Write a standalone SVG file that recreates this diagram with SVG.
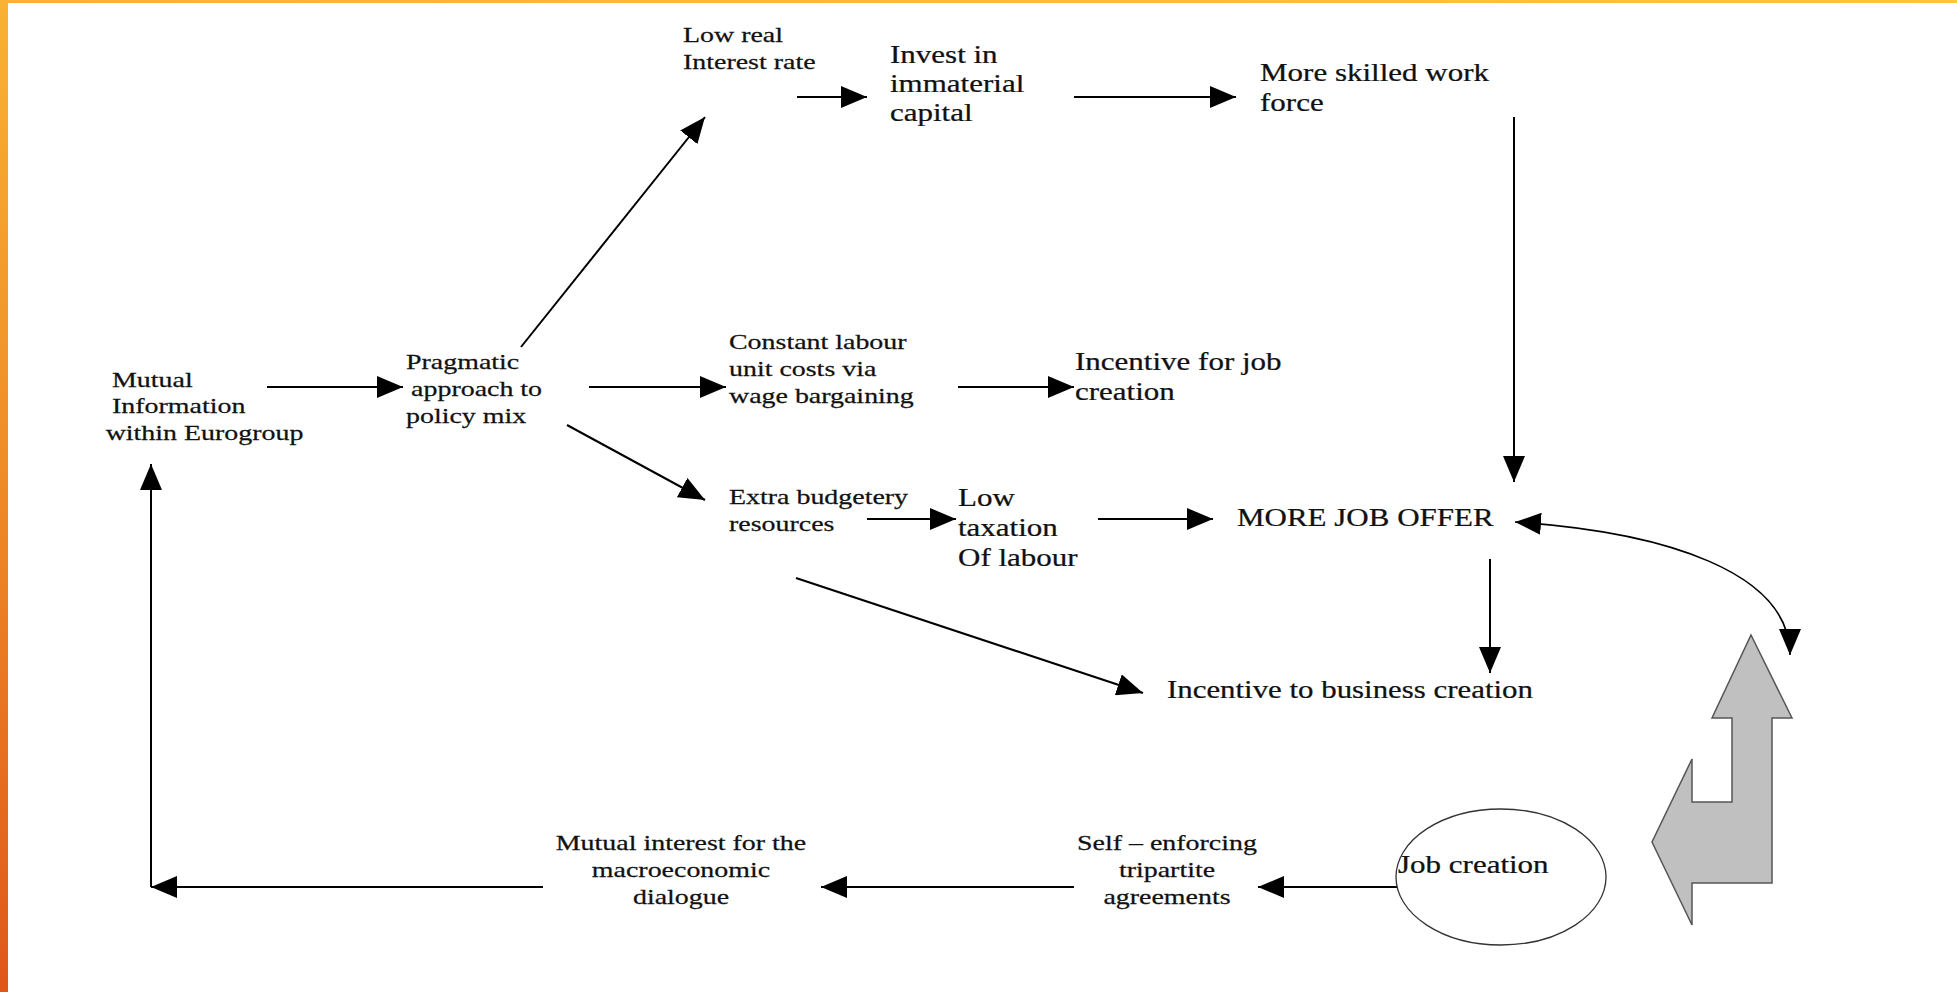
<svg xmlns="http://www.w3.org/2000/svg" width="1957" height="992" viewBox="0 0 1957 992">
  <defs>
    <linearGradient id="gLeft" x1="0" y1="0" x2="0" y2="1">
      <stop offset="0" stop-color="#F9B233"/>
      <stop offset="0.5" stop-color="#EE8A26"/>
      <stop offset="1" stop-color="#DF571A"/>
    </linearGradient>
    <linearGradient id="gTop" x1="0" y1="0" x2="1" y2="0">
      <stop offset="0" stop-color="#F9B233"/>
      <stop offset="1" stop-color="#FEC534"/>
    </linearGradient>
    <marker id="ah" markerUnits="userSpaceOnUse" markerWidth="26" markerHeight="22" refX="26" refY="11" orient="auto-start-reverse">
      <path d="M0,0 L26,11 L0,22 z" fill="#000"/>
    </marker>
    <style>
      text { font-family: "Liberation Serif", "Times New Roman", serif; fill: #111; stroke: #111; stroke-width: 0.25px; }
      .s { font-size: 22px; }
      .l { font-size: 25px; }
      .c { text-anchor: middle; }
      .con line, .con path { stroke: #000; stroke-width: 2; fill: none; marker-end: url(#ah); }
    </style>
  </defs>

  <rect x="0" y="0" width="1957" height="992" fill="#FFFFFF"/>
  <rect x="0" y="0" width="1957" height="3" fill="url(#gTop)"/>
  <rect x="0" y="0" width="8" height="992" fill="url(#gLeft)"/>

  <g id="connectors" class="con">
    <line x1="267" y1="387" x2="403" y2="387"/>
    <line x1="521" y1="347" x2="705" y2="117"/>
    <line x1="589" y1="387" x2="726" y2="387"/>
    <line x1="567" y1="425" x2="705" y2="500"/>
    <line x1="797" y1="97" x2="867" y2="97"/>
    <line x1="1074" y1="97" x2="1236" y2="97"/>
    <line x1="1514" y1="117" x2="1514" y2="482"/>
    <line x1="958" y1="387" x2="1074" y2="387"/>
    <line x1="867" y1="519" x2="956" y2="519"/>
    <line x1="1098" y1="519" x2="1213" y2="519"/>
    <line x1="796" y1="578" x2="1143" y2="693"/>
    <line x1="1490" y1="559" x2="1490" y2="673"/>
    <path d="M1515,522 C1665,532 1790,572 1790,655" style="marker-start:url(#ah);stroke-width:1.6"/>
    <line x1="1397" y1="887" x2="1258" y2="887"/>
    <line x1="1074" y1="887" x2="821" y2="887"/>
    <line x1="543" y1="887" x2="151" y2="887"/>
    <line x1="151" y1="887" x2="151" y2="464"/>
  </g>

  <g id="n-mutual-info" transform="translate(112,387) scale(1.27,1)">
    <text class="s"><tspan x="0" y="0">Mutual</tspan><tspan x="0" y="26">Information</tspan><tspan x="-5" y="53">within Eurogroup</tspan></text>
  </g>
  <g id="n-pragmatic" transform="translate(406,369) scale(1.27,1)">
    <text class="s"><tspan x="0" y="0">Pragmatic</tspan><tspan x="4" y="27">approach to</tspan><tspan x="0" y="54">policy mix</tspan></text>
  </g>
  <g id="n-low-real" transform="translate(683,42) scale(1.27,1)">
    <text class="s"><tspan x="0" y="0">Low real</tspan><tspan x="0" y="27">Interest rate</tspan></text>
  </g>
  <g id="n-invest" transform="translate(890,63) scale(1.24,1)">
    <text class="l"><tspan x="0" y="0">Invest in</tspan><tspan x="0" y="29">immaterial</tspan><tspan x="0" y="58">capital</tspan></text>
  </g>
  <g id="n-skilled" transform="translate(1260,81) scale(1.24,1)">
    <text class="l"><tspan x="0" y="0">More skilled work</tspan><tspan x="0" y="30">force</tspan></text>
  </g>
  <g id="n-constant" transform="translate(729,349) scale(1.27,1)">
    <text class="s"><tspan x="0" y="0">Constant labour</tspan><tspan x="0" y="27">unit costs via</tspan><tspan x="0" y="54">wage bargaining</tspan></text>
  </g>
  <g id="n-incentive-job" transform="translate(1075,370) scale(1.24,1)">
    <text class="l"><tspan x="0" y="0">Incentive for job</tspan><tspan x="0" y="30">creation</tspan></text>
  </g>
  <g id="n-extra" transform="translate(729,504) scale(1.27,1)">
    <text class="s"><tspan x="0" y="0">Extra budgetery</tspan><tspan x="0" y="27">resources</tspan></text>
  </g>
  <g id="n-low-tax" transform="translate(958,506) scale(1.24,1)">
    <text class="l"><tspan x="0" y="0">Low</tspan><tspan x="0" y="30">taxation</tspan><tspan x="0" y="60">Of labour</tspan></text>
  </g>
  <g id="n-more-job" transform="translate(1237,526) scale(1.24,1)">
    <text class="l" x="0" y="0">MORE JOB OFFER</text>
  </g>
  <g id="n-incentive-business" transform="translate(1167,698) scale(1.235,1)">
    <text class="l" x="0" y="0">Incentive to business creation</text>
  </g>
  <g id="n-job-creation">
    <ellipse cx="1501" cy="877" rx="105" ry="68" fill="#FFFFFF" stroke="#333" stroke-width="1.3"/>
    <text class="l" transform="translate(1398,873) scale(1.24,1)" x="0" y="0">Job creation</text>
  </g>
  <g id="n-mutual-interest" transform="translate(681,850) scale(1.27,1)">
    <text class="s c"><tspan x="0" y="0">Mutual interest for the</tspan><tspan x="0" y="27">macroeconomic</tspan><tspan x="0" y="54">dialogue</tspan></text>
  </g>
  <g id="n-self-enforcing" transform="translate(1167,850) scale(1.27,1)">
    <text class="s c"><tspan x="0" y="0">Self – enforcing</tspan><tspan x="0" y="27">tripartite</tspan><tspan x="0" y="54">agreements</tspan></text>
  </g>
  <g id="n-bent-arrow">
    <polygon points="1751,635 1792,718 1772,718 1772,883 1692,883 1692,925 1652,842 1692,759 1692,802 1732,802 1732,718 1712,718" fill="#C0C0C0" stroke="#555" stroke-width="1.5" stroke-linejoin="miter"/>
  </g>
</svg>
